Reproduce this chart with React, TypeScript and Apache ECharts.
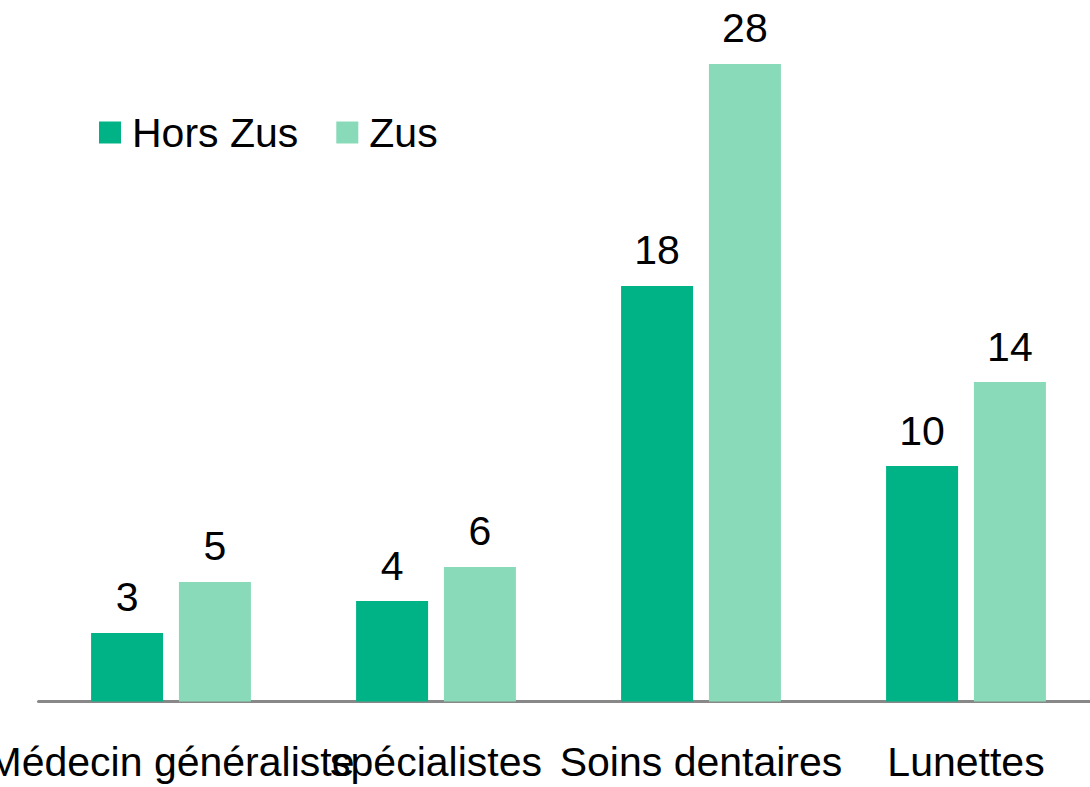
import React, { useEffect, useRef } from "react";
import * as echarts from "echarts";

const categories = ["Médecin généraliste", "spécialistes", "Soins dentaires", "Lunettes"];
const horsZus = [3.01, 4.41, 18.25, 10.34];
const zus = [5.25, 5.91, 28, 14.03];
const seriesNames = ["Hors Zus", "Zus"];

const FONT = "'Liberation Sans', Arial, sans-serif";

export default function App() {
  const ref = useRef<HTMLDivElement>(null);
  useEffect(() => {
    if (!ref.current) return;
    const chart = echarts.init(ref.current, null, { renderer: "svg" });
    const label = {
      show: true,
      position: "top",
      distance: 15,
      color: "#000",
      fontSize: 41,
      fontFamily: FONT,
      lineHeight: 41,
      formatter: (p: any) => String(Math.round(p.value)),
    };
    chart.setOption({
      animation: false,
      backgroundColor: "#fff",
      grid: {
        left: 38.5,
        right: 1.5,
        top: 18.4,
        bottom: 85.5,
        containLabel: false,
        outerBoundsMode: "none",
      },
      legend: {
        data: seriesNames,
        left: 99,
        top: 112,
        padding: 0,
        icon: "rect",
        itemWidth: 22,
        itemHeight: 22,
        itemGap: 38,
        textStyle: { fontSize: 41, fontFamily: FONT, color: "#000", padding: [0, 0, 0, 6], lineHeight: 41 },
      },
      xAxis: {
        type: "category",
        data: categories,
        axisLine: { show: true, lineStyle: { color: "#888888", width: 3 } },
        axisTick: { show: false },
        axisLabel: {
          interval: 0,
          margin: 40,
          color: "#000",
          fontSize: 41,
          fontFamily: FONT,
          lineHeight: 41,
          verticalAlign: "top",
          hideOverlap: false,
        },
      },
      yAxis: { type: "value", min: 0, max: 30, show: false, splitLine: { show: false } },
      series: [
        {
          name: seriesNames[0],
          type: "bar",
          data: horsZus,
          barWidth: 72,
          barGap: "22%",
          itemStyle: { color: "#00B386" },
          label,
        },
        {
          name: seriesNames[1],
          type: "bar",
          data: zus,
          barWidth: 72,
          itemStyle: { color: "#88DAB8" },
          label,
        },
      ],
    });
    return () => chart.dispose();
  }, []);
  return (
    <div style={{ position: "fixed", left: 0, top: 0, width: 1090, height: 787, overflow: "hidden" }}>
      <div ref={ref} style={{ width: 1100, height: 787 }} />
    </div>
  );
}
